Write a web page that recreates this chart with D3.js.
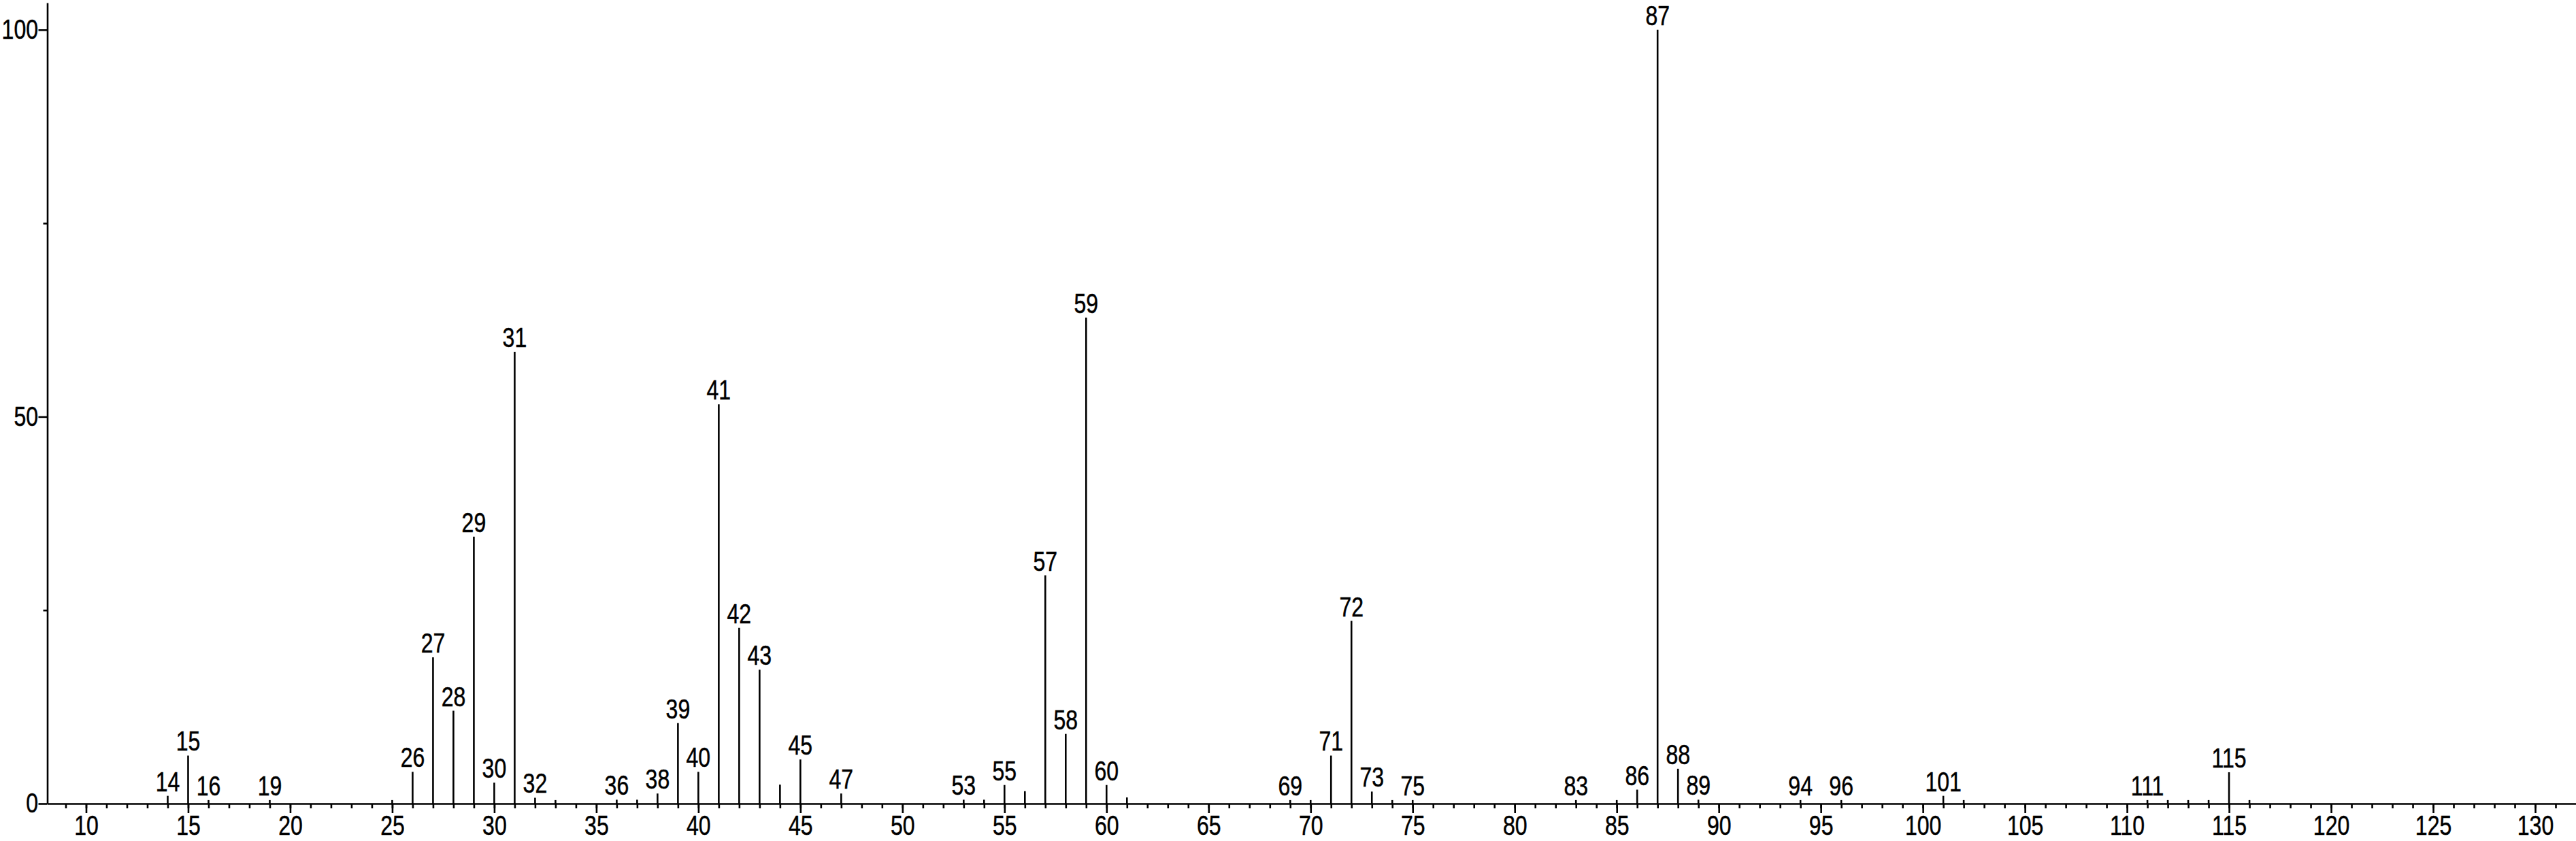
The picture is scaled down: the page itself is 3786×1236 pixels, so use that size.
<!DOCTYPE html>
<html lang="en">
<head>
    <meta charset="UTF-8">
    <title>Mass spectrum</title>
    <style>
        body { margin: 0; background: #fff; }
        svg text { font-family: "Liberation Sans", Arial, sans-serif; fill: #000; stroke: #000; stroke-width: 0.5px; }
    </style>
</head>
<body>
    <div id="chart"></div>

    <script src="https://d3js.org/d3.v7.min.js"></script>
    <script>
        // peaks: m/z and relative intensity (%)
        const mz = [14, 15, 16, 19, 25, 26, 27, 28, 29, 30, 31, 32, 33, 36, 37, 38, 39, 40, 41, 42,
                    43, 44, 45, 47, 53, 54, 55, 56, 57, 58, 59, 60, 61, 69, 70, 71, 72, 73, 74, 75,
                    83, 85, 86, 87, 88, 89, 94, 96, 101, 102, 111, 112, 113, 114, 115, 116];
        const intensity = [1.0, 6.2, 0.45, 0.45, 0.45, 4.1, 18.9, 12.0, 34.5, 2.7, 58.4, 0.75, 0.45, 0.5, 0.5, 1.3, 10.4, 4.1, 51.6, 22.7,
                    17.3, 2.45, 5.7, 1.3, 0.5, 0.5, 2.4, 1.6, 29.5, 9.0, 62.8, 2.4, 0.8, 0.45, 0.45, 6.2, 23.6, 1.55, 0.45, 0.45,
                    0.45, 0.45, 1.8, 100, 4.5, 0.5, 0.45, 0.45, 1.0, 0.45, 0.45, 0.45, 0.45, 0.45, 4.05, 0.45];
        // peaks that carry a label
        const labeled = [14, 15, 16, 19, 26, 27, 28, 29, 30, 31, 32, 36, 38, 39, 40, 41, 42, 43, 45, 47,
                    53, 55, 57, 58, 59, 60, 69, 71, 72, 73, 75, 83, 86, 87, 88, 89, 94, 96, 101, 111, 115];
        const xMajorTicks = d3.range(10, 131, 5);
        const xMinorTicks = d3.range(9, 132, 1);
        const yMajorTicks = [0, 50, 100];
        const yMinorTicks = [25, 75];

        const W = 3786, H = 1236;
        const fontSize = 40;
        const narrow = 0.8;   // squeeze text horizontally, the original font is a narrow one
        const svg = d3.select("#chart").append("svg").attr("width", W).attr("height", H);

        const x = d3.scaleLinear().domain([8.1, 132]).range([69.5, 3786]);
        const y = d3.scaleLinear().domain([0, 103.5]).range([1181, 4]);

        const peaks = mz.map((m, i) => ({m: m, v: intensity[i]}));

        // minor x ticks
        svg.append("g")
            .attr("transform", "translate(0," + y(0) + ")")
            .call(d3.axisBottom(x).tickValues(xMinorTicks).tickSize(7).tickSizeOuter(0).tickFormat(""))
            .call(g => g.selectAll("line").attr("stroke-width", 2.6))
            .call(g => g.select(".domain").remove());

        // major x ticks + labels
        svg.append("g")
            .attr("transform", "translate(0," + y(0) + ")")
            .call(d3.axisBottom(x).tickValues(xMajorTicks).tickSize(14).tickSizeOuter(0).tickPadding(4))
            .call(g => g.selectAll("line").attr("stroke-width", 2.6))
            .call(g => g.select(".domain").attr("stroke-width", 2.6))
            .call(g => g.selectAll("text")
                .attr("font-size", fontSize)
                .attr("transform", "scale(" + narrow + ",1)")
                .style("font-family", null));

        // y axis
        svg.append("g")
            .attr("transform", "translate(" + x.range()[0] + ",0)")
            .call(d3.axisLeft(y).tickValues(yMinorTicks).tickSize(6).tickSizeOuter(0).tickFormat(""))
            .call(g => g.selectAll("line").attr("stroke-width", 2.6))
            .call(g => g.select(".domain").remove());

        svg.append("g")
            .attr("transform", "translate(" + x.range()[0] + ",0)")
            .call(d3.axisLeft(y).tickValues(yMajorTicks).tickSize(13).tickSizeOuter(0))
            .call(g => g.selectAll("line").attr("stroke-width", 2.6))
            .call(g => g.select(".domain").attr("stroke-width", 2.6))
            .call(g => g.selectAll("text")
                .attr("font-size", fontSize)
                .attr("x", -13.5 / narrow)
                .attr("transform", "scale(" + narrow + ",1)")
                .style("font-family", null));

        // peak sticks
        svg.selectAll(".peak")
            .data(peaks)
            .enter().append("line")
            .attr("class", "peak")
            .attr("x1", d => x(d.m))
            .attr("x2", d => x(d.m))
            .attr("y1", y(0))
            .attr("y2", d => y(d.v))
            .attr("stroke", "#000")
            .attr("stroke-width", 2.6);

        // peak labels
        svg.selectAll(".plabel")
            .data(peaks.filter(d => labeled.includes(d.m)))
            .enter().append("text")
            .attr("class", "plabel")
            .attr("transform", d => "translate(" + x(d.m) + "," + (y(d.v) - 7) + ") scale(" + narrow + ",1)")
            .attr("text-anchor", "middle")
            .attr("font-size", fontSize)
            .text(d => d.m);
    </script>
</body>
</html>
